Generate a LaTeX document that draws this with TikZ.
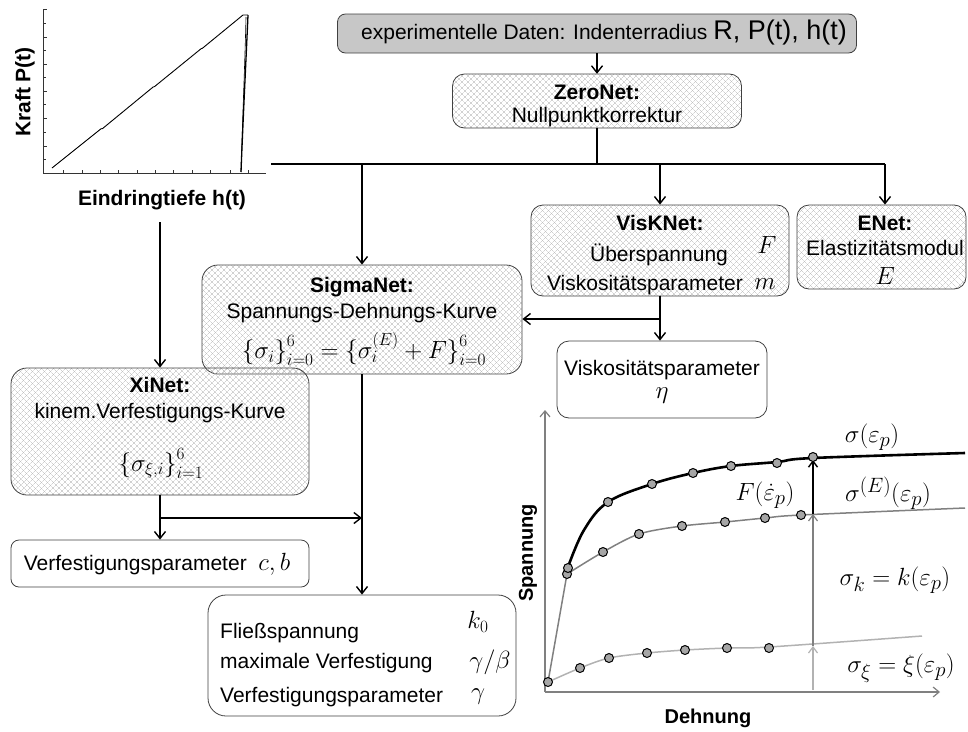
\documentclass[tikz,border=0pt]{standalone}
\usepackage[no-math]{fontspec}
\setmainfont{Liberation Sans}
\usetikzlibrary{arrows.meta,patterns.meta}
\newcommand\myfs{\fontsize{21}{25}\selectfont}
\newcommand\mybf{\fontsize{21}{25}\selectfont\bfseries}
\newcommand\mymath{\fontsize{25}{28}\selectfont}
\newcommand\mybigm{\fontsize{29}{32}\selectfont}
\begin{document}
\begin{tikzpicture}[x=1pt,y=-1pt,
  conn/.style={line width=1.6pt,-{Straight Barb[length=7pt,width=11pt,line width=1.4pt]}},
  bus/.style={line width=1.6pt},
  hbox/.style={draw=black!75,line width=0.8pt,rounded corners=12pt,inner sep=0pt,
    preaction={pattern={Lines[angle=-45,distance=4pt,line width=0.35pt]},pattern color=black!28},
    pattern={Lines[angle=45,distance=4pt,line width=0.35pt]},pattern color=black!28},
  wbox/.style={draw=black!75,line width=0.8pt,rounded corners=10pt,inner sep=0pt,fill=white},
  txt/.style={inner sep=0pt,font=\myfs},
  hdr/.style={inner sep=0pt,font=\mybf},
  mth/.style={inner sep=0pt,font=\mymath},
  big/.style={inner sep=0pt,font=\mybigm},
  axlbl/.style={inner sep=0pt,font=\fontsize{20}{24}\selectfont\bfseries},
  gaxis/.style={draw=black!50,line width=1.5pt,-{Straight Barb[length=6pt,width=10pt,line width=1.2pt]}},
  dot/.style={draw=black,line width=1pt,fill=black!35},
]
\useasboundingbox (0,0) rectangle (968,731);

% ---------- top-left load/depth plot ----------
\draw[black!80,line width=0.8pt] (43,9) -- (43,173) -- (266,173);
\foreach \yy in {9,37,64,91,118,146} \draw[black!80,line width=0.8pt] (43,\yy) -- (47,\yy);
\foreach \yy in {23,50,77,104,132,159} \draw[black!80,line width=0.8pt] (43,\yy) -- (45.5,\yy);
\foreach \xx in {63,82,100,118,137,155,173,192,210,230,248} \draw[black!80,line width=0.8pt] (\xx,173) -- (\xx,170);
\draw[line width=0.9pt] (52,168) -- (101,128.8) -- (102.5,128.6) -- (153,87.1) -- (154.5,86.6) -- (201,48.8) -- (202.5,48.2) -- (243,15) -- (248,15);
\draw[line width=1.3pt] (248,15) .. controls (246,60) and (243,120) .. (241,172);
\draw[line width=0.6pt] (246,17) .. controls (245,60) and (242.5,120) .. (241,172);
\node[axlbl,font=\fontsize{21}{25}\selectfont\bfseries,rotate=90] (kraft) at (25,92) {Kraft P(t)};
\node[axlbl,font=\fontsize{21}{25}\selectfont\bfseries] (eind) at (162,200) {Eindringtiefe h(t)};
\coordinate (plotEnd) at (160,222);

% ---------- boxes ----------
\node[wbox,fill=black!22,rounded corners=8pt,minimum width=519pt,minimum height=39pt] (top) at (597,33.5) {};
\node[txt] (topT) at (604,33) {experimentelle Daten: Indenterradius {\fontsize{27}{27}\selectfont R, P(t), h(t)}};

\node[hbox,minimum width=289pt,minimum height=54pt] (zero) at (597,101) {};
\node[hdr] (zeroH) at (597,92) {ZeroNet:};
\node[txt] (zeroT) at (597,117) {Nullpunktkorrektur};

\node[hbox,minimum width=258pt,minimum height=91pt] (visk) at (660,250.5) {};
\node[hdr] (viskH) at (660,223) {VisKNet:};
\node[txt] (viskT1) at (659,255) {Überspannung};
\node[mth] (viskF) at (767,245) {$F$};
\node[txt,anchor=east] (viskT2) at (743,285) {Viskositätsparameter};
\node[mth] (viskM) at (765,284) {$m$};

\node[hbox,minimum width=169pt,minimum height=84pt] (enet) at (881.5,247) {};
\node[hdr] (enetH) at (885,223) {ENet:};
\node[txt] (enetT) at (885,248) {Elastizitätsmodul};
\node[mth] (enetE) at (885,276) {$E$};

\node[hbox,rounded corners=16pt,minimum width=320pt,minimum height=109pt] (sigma) at (362,319.5) {};
\node[hdr] (sigmaH) at (362,287) {SigmaNet:};
\node[txt] (sigmaT) at (362,313) {Spannungs-Dehnungs-Kurve};
\node[mth] (sigmaF) at (364,349) {$\bigl\{\sigma_i\bigr\}_{i=0}^{6}=\bigl\{\sigma_i^{(E)}+F\bigr\}_{i=0}^{6}$};

\node[wbox,rounded corners=12pt,minimum width=210pt,minimum height=77pt] (eta) at (662,379.5) {};
\node[txt] (etaT) at (662,370) {Viskositätsparameter};
\node[mth] (etaM) at (662,396) {$\eta$};

\node[hbox,rounded corners=16pt,minimum width=298pt,minimum height=127pt] (xi) at (160,431.5) {};
\node[hdr] (xiH) at (160,385) {XiNet:};
\node[txt] (xiT) at (160,413) {kinem.Verfestigungs-Kurve};
\node[mth] (xiF) at (161,463) {$\bigl\{\sigma_{\xi,i}\bigr\}_{i=1}^{6}$};

\node[wbox,rounded corners=8pt,minimum width=298pt,minimum height=47pt] (verf) at (160,563.5) {};
\node[txt] (verfT) at (157,564) {Verfestigungsparameter \ {\mymath$c,b$}};

\node[wbox,rounded corners=18pt,minimum width=308pt,minimum height=121pt] (bot) at (362,655.5) {};
\node[txt,anchor=west] (botT1) at (220,633) {Fließspannung};
\node[txt,anchor=west] (botT2) at (220,663) {maximale Verfestigung};
\node[txt,anchor=west] (botT3) at (220,697) {Verfestigungsparameter};
\node[mth] (botM1) at (478,622) {$k_0$};
\node[mth] (botM2) at (490,662) {$\gamma/\beta$};
\node[mth] (botM3) at (478,697) {$\gamma$};

% ---------- connectors ----------
\coordinate (busL) at (271,164);
\coordinate (busR) at (885,164);
\coordinate (vb) at (660,319);
\coordinate (xb) at (160,518);
\draw[conn] (zero.north |- top.south) -- (zero.north);
\draw[bus] (zero.south) -- (zero.south |- busL);
\draw[bus] (busL) -- (busR);
\draw[conn] (sigma.north |- busL) -- (sigma.north);
\draw[conn] (visk.north |- busL) -- (visk.north);
\draw[conn] (busR) -- (busR |- enet.north);
\draw[conn] (visk.south) -- (visk.south |- eta.north);
\draw[conn] (vb) -- (vb -| sigma.east);
\draw[conn] (plotEnd) -- (plotEnd |- xi.north);
\draw[conn] (xi.south) -- (xi.south |- verf.north);
\draw[conn] (xb) -- (xb -| sigma.south);
\draw[conn] (sigma.south) -- (sigma.south |- bot.north);

% ---------- bottom-right stress-strain sketch ----------
\draw[gaxis] (545,692) -- (545,410);
\draw[gaxis] (545,692) -- (940,692);
\node[axlbl,rotate=90] (span) at (528,553) {Spannung};
\node[axlbl] (dehn) at (708,718) {Dehnung};

\draw[black!30,line width=1.5pt] plot[smooth] coordinates {(548,682) (580,668) (609,658) (647,653) (685,650) (727,648) (769,647) (922,636)};
\draw[black!50,line width=1.5pt] (548,682) -- (567,574);
\draw[black!50,line width=1.5pt] plot[smooth] coordinates {(567,574) (603,552) (639,534) (682,526) (725,522) (765,518) (801,515) (965,508)};
\draw[black,line width=2.6pt] plot[smooth,tension=0.6] coordinates {(568,567) (584,530) (608,502) (652,484) (693,473) (731,466) (777,462) (813,458) (965,453)};

\draw[black!30,line width=1.5pt,-{Straight Barb[length=6pt,width=9pt,line width=1.2pt]}] (813,690) -- (813,646);
\draw[black!50,line width=1.5pt,-{Straight Barb[length=6pt,width=9pt,line width=1.2pt]}] (813,646) -- (813,514);
\draw[black,line width=1.8pt,-{Straight Barb[length=6pt,width=9pt,line width=1.4pt]}] (813,514) -- (813,460);

\foreach \p in {(548,682),(580,668),(609,658),(647,653),(685,650),(727,648),(769,648),
  (567,574),(603,552),(639,534),(682,526),(725,522),(765,518),(801,515),
  (568,568),(608,502),(652,484),(693,473),(731,466),(777,463),(813,457)}
  \draw[dot] \p circle (4.5pt);

\node[big] (lsig) at (872,437) {$\sigma(\varepsilon_p)$};
\node[big] (lsigE) at (888,493) {$\sigma^{(E)}(\varepsilon_p)$};
\node[big] (lF) at (765,495) {$F(\dot\varepsilon_p)$};
\node[big] (lsk) at (895,580) {$\sigma_k=k(\varepsilon_p)$};
\node[big] (lsx) at (901,668) {$\sigma_\xi=\xi(\varepsilon_p)$};
\end{tikzpicture}
\end{document}
